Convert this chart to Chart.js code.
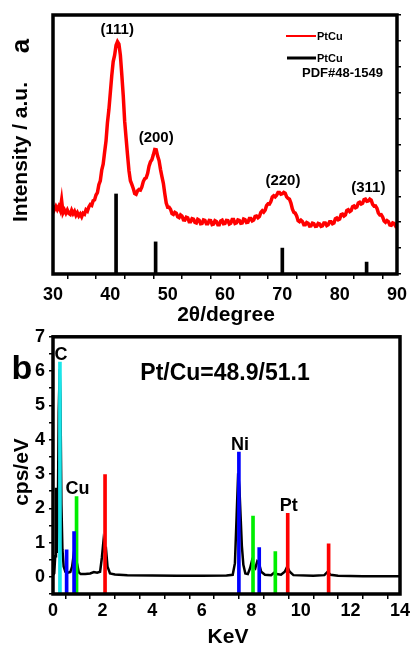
<!DOCTYPE html>
<html>
<head>
<meta charset="utf-8">
<title>PtCu XRD and EDS</title>
<script src="https://cdn.jsdelivr.net/npm/chart.js@4.4.0/dist/chart.umd.min.js"></script>
<style>
  html, body { margin: 0; padding: 0; background: #fff; }
  .panel { position: absolute; left: 0; width: 412px; }
  #xrdPanel { top: 0; height: 330px; }
  #edsPanel { top: 322px; height: 326px; }
</style>
</head>
<body>
<div class="panel" id="xrdPanel"><canvas id="xrdChart"></canvas></div>
<div class="panel" id="edsPanel"><canvas id="edsChart"></canvas></div>
<script>
'use strict';

// XRD pattern, sampled every 0.25 degree from 30 to 90
const xrdStart = 30;
const xrdStep = 0.25;
const xrdIntensity = [
    2.64, 2.49, 2.61, 2.49, 2.61, 2.47, 2.85, 2.36, 2.47, 2.35,
    2.47, 2.34, 2.30, 2.46, 2.33, 2.42, 2.27, 2.37, 2.24, 2.32,
    2.21, 2.35, 2.31, 2.48, 2.43, 2.59, 2.68, 2.65, 2.83, 2.86,
    3.05, 3.14, 3.45, 3.60, 4.01, 4.24, 4.70, 5.14, 5.85, 6.35,
    7.00, 7.66, 8.20, 8.45, 8.83, 8.97, 8.88, 8.45, 7.70, 6.90,
    5.90, 5.25, 4.60, 3.99, 3.60, 3.46, 3.30, 3.11, 3.08, 3.21,
    3.26, 3.24, 3.36, 3.57, 3.68, 3.71, 3.88, 4.16, 4.33, 4.41,
    4.60, 4.81, 4.80, 4.55, 4.38, 4.04, 3.76, 3.50, 3.10, 2.74,
    2.58, 2.58, 2.50, 2.33, 2.30, 2.38, 2.35, 2.21, 2.18, 2.28,
    2.24, 2.09, 2.08, 2.19, 2.17, 2.02, 2.02, 2.14, 2.12, 1.99,
    1.97, 2.11, 2.08, 1.94, 1.95, 2.09, 2.07, 1.94, 1.94, 2.07,
    2.06, 1.91, 1.93, 2.06, 2.03, 1.90, 1.90, 2.05, 2.08, 1.94,
    1.95, 2.07, 2.06, 1.93, 1.96, 2.10, 2.10, 1.95, 1.97, 2.09,
    2.07, 1.96, 1.97, 2.12, 2.10, 1.99, 2.00, 2.14, 2.14, 2.05,
    2.08, 2.22, 2.24, 2.17, 2.22, 2.38, 2.44, 2.39, 2.46, 2.64,
    2.71, 2.70, 2.80, 2.97, 3.02, 2.98, 3.04, 3.15, 3.15, 3.08,
    3.10, 3.15, 3.12, 2.98, 2.92, 2.89, 2.74, 2.51, 2.38, 2.35,
    2.24, 2.06, 2.02, 2.08, 2.03, 1.90, 1.90, 1.99, 1.96, 1.85,
    1.86, 1.96, 1.94, 1.84, 1.85, 1.95, 1.93, 1.84, 1.86, 1.97,
    1.97, 1.87, 1.90, 2.02, 2.02, 1.94, 1.97, 2.13, 2.16, 2.09,
    2.12, 2.29, 2.31, 2.24, 2.28, 2.45, 2.48, 2.41, 2.45, 2.60,
    2.63, 2.56, 2.59, 2.74, 2.77, 2.70, 2.73, 2.87, 2.89, 2.81,
    2.82, 2.89, 2.85, 2.69, 2.62, 2.63, 2.54, 2.36, 2.28, 2.29,
    2.20, 2.05, 2.00, 2.06, 2.02, 1.89, 1.88, 1.97, 1.95, 1.85,
    1.90,
];

// PDF#48-1549 reference lines
const refAngle = [41.0, 47.9, 70.0, 84.7];
const refIntensity = [3.09, 1.24, 1.00, 0.46];

// Miller indices over the peaks
const peakNames = ['(111)', '(200)', '(220)', '(311)'];
const peakAngles = [41.2, 48.0, 70.1, 85.0];

// EDS spectrum
const edsEnergy = [
    0.00, 0.05, 0.09, 0.12, 0.15, 0.19, 0.23, 0.27, 0.30, 0.34,
    0.38, 0.43, 0.50, 0.60, 0.70, 0.77, 0.83, 0.88, 0.93, 0.98,
    1.04, 1.12, 1.30, 1.50, 1.65, 1.78, 1.90, 1.97, 2.03, 2.09,
    2.14, 2.20, 2.30, 2.50, 3.00, 4.00, 5.00, 6.00, 7.00, 7.25,
    7.34, 7.41, 7.47, 7.52, 7.57, 7.62, 7.68, 7.76, 7.86, 7.95,
    8.02, 8.09, 8.16, 8.24, 8.31, 8.40, 8.55, 8.80, 8.92, 9.02,
    9.20, 9.35, 9.45, 9.55, 9.70, 10.50, 10.95, 11.08, 11.20, 11.50,
    12.50, 14.00,
];
const edsCps = [
    0.05, 0.10, 0.60, 2.60, 0.70, 1.40, 4.80, 6.05, 5.20, 2.10,
    0.80, 0.30, 0.15, 0.12, 0.14, 0.30, 0.62, 0.45, 0.50, 0.35,
    0.13, 0.08, 0.08, 0.10, 0.14, 0.12, 0.15, 0.55, 1.00, 0.75,
    0.80, 0.30, 0.10, 0.07, 0.05, 0.04, 0.03, 0.03, 0.04, 0.06,
    0.40, 1.80, 3.02, 2.60, 1.75, 0.90, 0.35, 0.10, 0.08, 0.25,
    0.45, 0.30, 0.25, 0.45, 0.40, 0.15, 0.06, 0.05, 0.12, 0.08,
    0.06, 0.15, 0.30, 0.15, 0.05, 0.03, 0.05, 0.15, 0.06, 0.03,
    0.02, 0.02,
];

// Element marker lines (energy in keV, height in cps/eV)
const cEnergy = [0.28];
const cHeight = [6.26];
const niEnergy = [0.55, 0.85, 7.50, 8.32];
const niHeight = [0.79, 1.32, 3.64, 0.85];
const cuEnergy = [0.95, 8.07, 8.97];
const cuHeight = [2.34, 1.77, 0.74];
const ptEnergy = [2.10, 9.47, 11.12];
const ptHeight = [2.98, 1.85, 0.96];

const FONT = '"Liberation Sans", Arial, Helvetica, sans-serif';
Chart.defaults.font.family = FONT;
Chart.defaults.font.weight = 'bold';
Chart.defaults.color = '#000';

const drawText = function (ctx, text, x, y, size, opts = {}) {
    ctx.save();
    ctx.font = `bold ${size}px ${FONT}`;
    ctx.fillStyle = opts.color || '#000';
    ctx.textAlign = opts.align || 'center';
    ctx.textBaseline = opts.baseline || 'middle';
    ctx.translate(x, y);
    if (opts.rotate) {
        ctx.rotate(opts.rotate);
    }
    ctx.fillText(text, 0, 0);
    ctx.restore();
};

// Thick box around the plot area
const framePlugin = {
    id: 'frame',
    afterDatasetsDraw(chart) {
        const { ctx, chartArea: a } = chart;
        ctx.save();
        ctx.strokeStyle = '#000';
        ctx.lineWidth = 3.5;
        ctx.strokeRect(a.left, a.top, a.right - a.left, a.bottom - a.top);
        ctx.restore();
    },
};

const tickGrid = (len) => ({
    drawOnChartArea: false,
    drawTicks: true,
    tickLength: len,
    color: '#000',
    lineWidth: 1.5,
});

// ---------- panel a: XRD ----------
const xrdTextPlugin = {
    id: 'xrdText',
    afterDraw(chart) {
        const { ctx } = chart;
        const xs = chart.scales.x;
        const ys = chart.scales.y;

        drawText(ctx, 'a', 22, 46, 26, { rotate: -Math.PI / 2 });
        drawText(ctx, 'Intensity / a.u.', 21, 152, 21, { rotate: -Math.PI / 2 });
        drawText(ctx, '2\u03b8/degree', 226, 315, 21);

        // peak labels sit just above the highest point near each peak
        peakNames.forEach((name, i) => {
            let top = 0;
            xrdIntensity.forEach((v, k) => {
                const angle = xrdStart + k * xrdStep;
                if (Math.abs(angle - peakAngles[i]) <= 1 && v > top) {
                    top = v;
                }
            });
            drawText(ctx, name, xs.getPixelForValue(peakAngles[i]),
                ys.getPixelForValue(top) - 4, 15, { baseline: 'bottom' });
        });

        // legend
        ctx.save();
        ctx.strokeStyle = '#ff0000';
        ctx.lineWidth = 2;
        ctx.beginPath();
        ctx.moveTo(286, 36);
        ctx.lineTo(316, 36);
        ctx.stroke();
        ctx.strokeStyle = '#000';
        ctx.lineWidth = 3;
        ctx.beginPath();
        ctx.moveTo(287, 58);
        ctx.lineTo(316, 58);
        ctx.stroke();
        ctx.restore();
        drawText(ctx, 'PtCu', 317, 37, 11, { align: 'left' });
        drawText(ctx, 'PtCu', 317, 59, 11, { align: 'left' });
        drawText(ctx, 'PDF#48-1549', 302, 73, 13, { align: 'left' });
    },
};

const xrdPoints = xrdIntensity.map((v, i) => ({ x: xrdStart + i * xrdStep, y: v }));
const refPoints = refAngle.map((a, i) => ({ x: a, y: refIntensity[i] }));

new Chart(document.getElementById('xrdChart'), {
    type: 'line',
    data: {
        datasets: [
            {
                type: 'bar',
                data: refPoints,
                backgroundColor: '#000',
                barThickness: 3,
                grouped: false,
                order: 2,
            },
            {
                data: xrdPoints,
                borderColor: '#ff0000',
                borderWidth: 3.5,
                pointRadius: 0,
                tension: 0,
                order: 1,
            },
        ],
    },
    options: {
        responsive: true,
        maintainAspectRatio: false,
        animation: false,
        layout: { padding: { left: 53, top: 15, right: 0, bottom: 0 } },
        plugins: { legend: { display: false }, tooltip: { enabled: false } },
        scales: {
            x: {
                type: 'linear',
                min: 30,
                max: 90,
                offset: false,
                ticks: {
                    stepSize: 5,
                    autoSkip: false,
                    maxRotation: 0,
                    padding: 5,
                    font: { size: 18 },
                    callback: (v) => (v % 10 === 0 ? v : ''),
                },
                grid: tickGrid(5),
                border: { display: false },
                afterFit: (s) => { s.height = 56; },
            },
            y: {
                position: 'right',
                min: 0,
                max: 10,
                ticks: { stepSize: 1, padding: 0, callback: () => '' },
                grid: tickGrid(4),
                border: { display: false },
                afterFit: (s) => { s.width = 12; },
            },
        },
    },
    plugins: [framePlugin, xrdTextPlugin],
});

// ---------- panel b: EDS ----------
const elementLabels = [
    { text: 'C', energy: cEnergy[0], height: cHeight[0] },
    { text: 'Cu', energy: cuEnergy[0], height: cuHeight[0] },
    { text: 'Ni', energy: niEnergy[2], height: niHeight[2] },
    { text: 'Pt', energy: ptEnergy[1], height: ptHeight[1] },
];

const edsTextPlugin = {
    id: 'edsText',
    afterDraw(chart) {
        const { ctx } = chart;
        const xs = chart.scales.x;
        const ys = chart.scales.y;

        drawText(ctx, 'b', 22, 48, 34);
        drawText(ctx, 'cps/eV', 22, 150, 21, { rotate: -Math.PI / 2 });
        drawText(ctx, 'KeV', 228, 315, 21);
        drawText(ctx, 'Pt/Cu=48.9/51.1', 225, 52, 23);

        elementLabels.forEach((lab) => {
            drawText(ctx, lab.text, xs.getPixelForValue(lab.energy) + 1,
                ys.getPixelForValue(lab.height) - 2.5, 18, { baseline: 'alphabetic' });
        });
    },
};

const markerSet = (energy, height, color) => ({
    type: 'bar',
    data: energy.map((e, i) => ({ x: e, y: [-0.5, height[i]] })),
    backgroundColor: color,
    barThickness: 3,
    grouped: false,
    order: 1,
});

new Chart(document.getElementById('edsChart'), {
    type: 'line',
    data: {
        datasets: [
            {
                data: edsEnergy.map((e, i) => ({ x: e, y: edsCps[i] })),
                borderColor: '#000',
                borderWidth: 2.5,
                pointRadius: 0,
                tension: 0,
                order: 2,
            },
            markerSet(cEnergy, cHeight, '#19e6ea'),
            markerSet(niEnergy, niHeight, '#0000ff'),
            markerSet(cuEnergy, cuHeight, '#00ee00'),
            markerSet(ptEnergy, ptHeight, '#ff0000'),
        ],
    },
    options: {
        responsive: true,
        maintainAspectRatio: false,
        animation: false,
        layout: { padding: { left: 0, top: 13, right: 12, bottom: 0 } },
        plugins: { legend: { display: false }, tooltip: { enabled: false } },
        scales: {
            x: {
                type: 'linear',
                min: 0,
                max: 14,
                offset: false,
                ticks: {
                    stepSize: 1,
                    autoSkip: false,
                    maxRotation: 0,
                    padding: 1,
                    font: { size: 18 },
                    callback: (v) => (v % 2 === 0 ? v : ''),
                },
                grid: tickGrid(5),
                border: { display: false },
                afterFit: (s) => { s.height = 54; },
            },
            y: {
                min: -0.5,
                max: 7,
                ticks: {
                    stepSize: 0.5,
                    autoSkip: false,
                    padding: 4,
                    font: { size: 18 },
                    callback: (v) => (Number.isInteger(v) ? v : ''),
                },
                grid: tickGrid(4),
                border: { display: false },
                afterFit: (s) => { s.width = 53; },
            },
        },
    },
    plugins: [framePlugin, edsTextPlugin],
});
</script>
</body>
</html>
